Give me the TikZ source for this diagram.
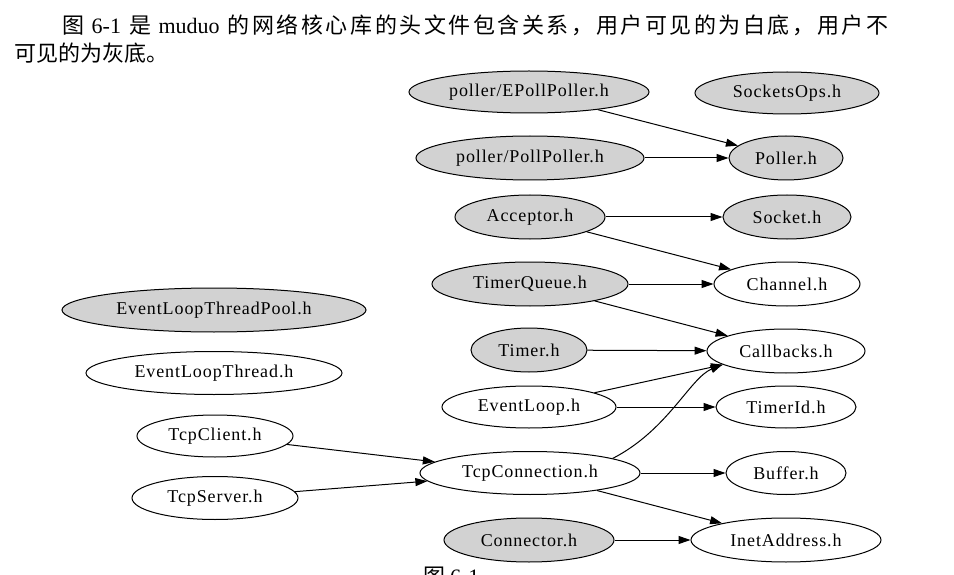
\documentclass[tikz,border=0pt]{standalone}
\usepackage{fontspec}
\usetikzlibrary{shapes.geometric,arrows.meta}
\setmainfont{Liberation Serif}
\newfontfamily\cjk{Noto Sans CJK SC}
\newfontfamily\labfont[LetterSpace=5]{Liberation Serif}
\newcommand\jx{\hskip 0pt plus 1fil}
\begin{document}
\begin{tikzpicture}[x=1pt,y=-1pt,
  hdr/.style={ellipse,draw=black,line width=1pt,inner sep=0pt,
    font=\labfont\fontsize{18}{20}\selectfont},
  grayh/.style={hdr,fill=gray!35},
  whiteh/.style={hdr,fill=white},
  edge/.style={line width=1pt,-{Triangle[length=12pt,width=8pt]}},
  sz/.style 2 args={minimum width=#1pt,minimum height=#2pt}]
\fill[white] (0,0) rectangle (954,575);
\useasboundingbox (0,0) rectangle (954,575);

% paragraph text
\node[anchor=base west,inner sep=0pt] (line1) at (62,34)
 {\fontsize{22}{26}\selectfont\hbox to 826pt{\cjk 图\jx\ \rmfamily 6-1\jx\ \cjk 是\jx\ \rmfamily muduo\jx\ \cjk 的\jx 网\jx 络\jx 核\jx 心\jx 库\jx 的\jx 头\jx 文\jx 件\jx 包\jx 含\jx 关\jx 系\jx ，\jx 用\jx 户\jx 可\jx 见\jx 的\jx 为\jx 白\jx 底\jx ，\jx 用\jx 户\jx 不}};
\node[anchor=base west,inner sep=0pt] (line2) at (14,62)
 {\fontsize{22}{26}\selectfont\cjk 可见的为灰底。};
\node[anchor=base west,inner sep=0pt] (caption) at (423,584)
 {\fontsize{22}{26}\selectfont\cjk 图\ \rmfamily 6-1};

% nodes
\node[grayh,sz={240}{42}] (epoll) at (529,92) {poller/EPollPoller.h};
\node[grayh,sz={184}{42}] (sockops) at (787,93) {SocketsOps.h};
\node[grayh,sz={228}{44}] (pollp) at (530,158) {poller/PollPoller.h};
\node[grayh,sz={114}{44}] (poller) at (786,158) {Poller.h};
\node[grayh,sz={150}{44}] (acceptor) at (530,217) {Acceptor.h};
\node[grayh,sz={128}{44}] (socket) at (787,217) {Socket.h};
\node[grayh,sz={196}{44}] (tqueue) at (530,284) {TimerQueue.h};
\node[whiteh,sz={146}{44}] (channel) at (787,284) {Channel.h};
\node[grayh,sz={116}{44}] (timer) at (529,350) {Timer.h};
\node[whiteh,sz={158}{44}] (callbacks) at (786,351) {Callbacks.h};
\node[whiteh,sz={174}{42}] (evloop) at (529,407) {EventLoop.h};
\node[whiteh,sz={140}{42}] (timerid) at (786,407) {TimerId.h};
\node[whiteh,sz={220}{43}] (tcpconn) at (530,473) {TcpConnection.h};
\node[whiteh,sz={120}{43}] (buffer) at (786,473) {Buffer.h};
\node[grayh,sz={170}{44}] (connector) at (529,540) {Connector.h};
\node[whiteh,sz={190}{44}] (inetaddr) at (786,540) {InetAddress.h};
\node[grayh,sz={304}{44}] (eltpool) at (214,310) {EventLoopThreadPool.h};
\node[whiteh,sz={256}{43}] (elthread) at (214,373) {EventLoopThread.h};
\node[whiteh,sz={156}{42}] (tcpclient) at (215,436) {TcpClient.h};
\node[whiteh,sz={166}{43}] (tcpserver) at (215,498) {TcpServer.h};

% edges
\draw[edge] (epoll) -- (poller);
\draw[edge] (pollp) -- (poller);
\draw[edge] (acceptor) -- (socket);
\draw[edge] (acceptor) -- (channel);
\draw[edge] (tqueue) -- (channel);
\draw[edge] (tqueue) -- (callbacks);
\draw[edge] (timer) -- (callbacks);
\draw[edge] (evloop) -- (callbacks);
\draw[edge] (tcpconn.10) .. controls (668,430) and (690,378) .. (callbacks.192);
\draw[edge] (evloop) -- (timerid);
\draw[edge] (tcpclient) -- (tcpconn);
\draw[edge] (tcpserver) -- (tcpconn);
\draw[edge] (tcpconn) -- (buffer);
\draw[edge] (tcpconn) -- (inetaddr);
\draw[edge] (connector) -- (inetaddr);
\end{tikzpicture}
\end{document}
